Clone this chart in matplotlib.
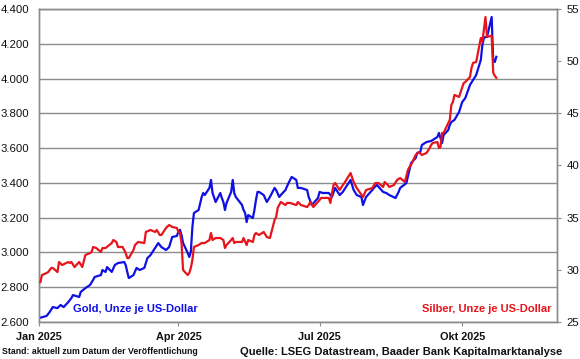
import matplotlib
matplotlib.use("Agg")
import matplotlib.pyplot as plt
import matplotlib.dates as mdates
import pandas as pd

plt.rcParams['font.family'] = ['Liberation Sans', 'DejaVu Sans']

gold_dates = [
    "2025-01-02", "2025-01-06", "2025-01-08", "2025-01-10", "2025-01-13", "2025-01-15",
    "2025-01-17", "2025-01-20", "2025-01-22", "2025-01-23", "2025-01-27", "2025-01-28",
    "2025-01-31", "2025-02-03", "2025-02-05", "2025-02-06", "2025-02-10", "2025-02-11",
    "2025-02-13", "2025-02-14", "2025-02-17", "2025-02-19", "2025-02-21", "2025-02-25",
    "2025-02-26", "2025-02-27", "2025-02-28", "2025-03-03", "2025-03-05", "2025-03-07",
    "2025-03-10", "2025-03-12", "2025-03-14", "2025-03-17", "2025-03-19", "2025-03-21",
    "2025-03-24", "2025-03-26", "2025-03-28", "2025-03-31", "2025-04-01", "2025-04-02",
    "2025-04-03", "2025-04-04", "2025-04-07", "2025-04-08", "2025-04-09", "2025-04-10",
    "2025-04-11", "2025-04-14", "2025-04-16", "2025-04-17", "2025-04-18", "2025-04-21",
    "2025-04-22", "2025-04-23", "2025-04-25", "2025-04-28", "2025-04-29", "2025-04-30",
    "2025-05-01", "2025-05-02", "2025-05-05", "2025-05-06", "2025-05-07", "2025-05-08",
    "2025-05-12", "2025-05-13", "2025-05-14", "2025-05-15", "2025-05-16", "2025-05-19",
    "2025-05-20", "2025-05-21", "2025-05-22", "2025-05-23", "2025-05-26", "2025-05-28",
    "2025-05-30", "2025-06-02", "2025-06-03", "2025-06-05", "2025-06-06", "2025-06-09",
    "2025-06-11", "2025-06-13", "2025-06-16", "2025-06-17", "2025-06-19", "2025-06-23",
    "2025-06-24", "2025-06-26", "2025-06-30", "2025-07-01", "2025-07-03", "2025-07-07",
    "2025-07-09", "2025-07-11", "2025-07-14", "2025-07-16", "2025-07-21", "2025-07-23",
    "2025-07-25", "2025-07-28", "2025-07-29", "2025-07-31", "2025-08-04", "2025-08-05",
    "2025-08-07", "2025-08-11", "2025-08-13", "2025-08-15", "2025-08-19", "2025-08-21",
    "2025-08-22", "2025-08-26", "2025-08-28", "2025-08-29", "2025-09-01", "2025-09-02",
    "2025-09-04", "2025-09-05", "2025-09-08", "2025-09-11", "2025-09-15", "2025-09-16",
    "2025-09-17", "2025-09-18", "2025-09-19", "2025-09-22", "2025-09-23", "2025-09-24",
    "2025-09-26", "2025-09-29", "2025-09-30", "2025-10-01", "2025-10-03", "2025-10-06",
    "2025-10-08", "2025-10-10", "2025-10-13", "2025-10-14", "2025-10-15", "2025-10-16",
    "2025-10-17", "2025-10-20", "2025-10-21", "2025-10-22", "2025-10-23",
]
gold_values = [
    2625, 2635, 2658, 2686, 2680, 2698,
    2686, 2715, 2738, 2755, 2744, 2773,
    2795, 2813, 2842, 2859, 2870, 2899,
    2888, 2916, 2888, 2928, 2939, 2945,
    2928, 2888, 2853, 2870, 2911, 2899,
    2911, 2968, 2985, 3026, 3054, 3031,
    3014, 3031, 3089, 3095, 3120, 3130,
    3100, 3054, 2997, 2974, 3003, 3146,
    3227, 3244, 3319, 3342, 3330, 3371,
    3417, 3342, 3290, 3342, 3313, 3290,
    3244, 3284, 3348, 3417, 3342, 3319,
    3273, 3244, 3227, 3175, 3215, 3198,
    3244, 3302, 3348, 3348, 3330, 3290,
    3319, 3371, 3359, 3319, 3330, 3359,
    3399, 3434, 3417, 3371, 3371, 3359,
    3319, 3273, 3313, 3348, 3342, 3342,
    3319, 3371, 3330, 3348, 3417, 3359,
    3330, 3319, 3273, 3319, 3359, 3371,
    3388, 3348, 3342, 3330, 3313, 3348,
    3371, 3399, 3474, 3514, 3543, 3572,
    3578, 3618, 3635, 3641, 3664, 3687,
    3658, 3629, 3675, 3704, 3733, 3750,
    3762, 3808, 3836, 3865, 3888, 3963,
    3992, 4020, 4107, 4193, 4233, 4239,
    4239, 4354, 4100, 4095, 4125,
]

silver_dates = [
    "2025-01-02", "2025-01-03", "2025-01-06", "2025-01-07", "2025-01-09", "2025-01-10",
    "2025-01-13", "2025-01-14", "2025-01-16", "2025-01-20", "2025-01-21", "2025-01-22",
    "2025-01-24", "2025-01-27", "2025-01-29", "2025-01-31", "2025-02-03", "2025-02-04",
    "2025-02-05", "2025-02-07", "2025-02-10", "2025-02-11", "2025-02-13", "2025-02-17",
    "2025-02-18", "2025-02-20", "2025-02-21", "2025-02-24", "2025-02-26", "2025-02-27",
    "2025-02-28", "2025-03-03", "2025-03-04", "2025-03-06", "2025-03-10", "2025-03-11",
    "2025-03-14", "2025-03-17", "2025-03-18", "2025-03-20", "2025-03-21", "2025-03-24",
    "2025-03-26", "2025-03-28", "2025-03-31", "2025-04-01", "2025-04-02", "2025-04-03",
    "2025-04-04", "2025-04-07", "2025-04-08", "2025-04-09", "2025-04-10", "2025-04-11",
    "2025-04-14", "2025-04-16", "2025-04-18", "2025-04-21", "2025-04-22", "2025-04-23",
    "2025-04-25", "2025-04-28", "2025-04-30", "2025-05-01", "2025-05-02", "2025-05-05",
    "2025-05-06", "2025-05-07", "2025-05-08", "2025-05-12", "2025-05-13", "2025-05-15",
    "2025-05-16", "2025-05-19", "2025-05-20", "2025-05-21", "2025-05-23", "2025-05-26",
    "2025-05-28", "2025-05-30", "2025-06-02", "2025-06-03", "2025-06-04", "2025-06-06",
    "2025-06-09", "2025-06-10", "2025-06-12", "2025-06-16", "2025-06-17", "2025-06-19",
    "2025-06-23", "2025-06-24", "2025-06-25", "2025-06-27", "2025-07-01", "2025-07-02",
    "2025-07-07", "2025-07-08", "2025-07-10", "2025-07-11", "2025-07-14", "2025-07-16",
    "2025-07-17", "2025-07-21", "2025-07-23", "2025-07-25", "2025-07-29", "2025-07-31",
    "2025-08-04", "2025-08-06", "2025-08-08", "2025-08-11", "2025-08-12", "2025-08-14",
    "2025-08-15", "2025-08-18", "2025-08-20", "2025-08-22", "2025-08-25", "2025-08-27",
    "2025-08-28", "2025-08-29", "2025-09-01", "2025-09-03", "2025-09-05", "2025-09-08",
    "2025-09-10", "2025-09-11", "2025-09-12", "2025-09-15", "2025-09-16", "2025-09-17",
    "2025-09-18", "2025-09-19", "2025-09-22", "2025-09-23", "2025-09-24", "2025-09-25",
    "2025-09-26", "2025-09-29", "2025-09-30", "2025-10-02", "2025-10-03", "2025-10-06",
    "2025-10-07", "2025-10-08", "2025-10-10", "2025-10-13", "2025-10-14", "2025-10-16",
    "2025-10-17", "2025-10-20", "2025-10-21", "2025-10-22", "2025-10-23",
]
silver_values = [
    28.83, 29.50, 29.70, 29.79, 30.18, 30.18,
    29.79, 30.75, 30.46, 30.75, 30.66, 30.75,
    30.27, 30.75, 30.27, 31.42, 31.61, 31.71,
    32.19, 32.09, 31.71, 32.09, 32.09, 32.57,
    32.86, 32.67, 32.19, 32.19, 31.61, 31.13,
    31.13, 31.90, 32.38, 32.67, 32.57, 33.63,
    33.82, 33.63, 33.82, 33.34, 33.34, 34.01,
    34.30, 34.11, 34.01, 33.63, 33.53, 32.57,
    29.98, 29.50, 29.70, 30.18, 30.94, 32.19,
    32.38, 32.57, 32.57, 32.86, 33.53, 32.86,
    33.05, 33.05, 32.86, 32.09, 32.38, 32.86,
    33.05, 32.57, 32.67, 32.67, 33.05, 32.38,
    32.86, 32.67, 33.34, 33.53, 33.34, 33.63,
    33.15, 33.05, 34.78, 35.06, 35.93, 36.50,
    36.21, 36.41, 36.41, 36.21, 36.50, 36.21,
    36.02, 36.21, 36.50, 36.02, 36.69, 36.89,
    36.89, 36.41, 38.13, 38.32, 37.65, 38.13,
    38.32, 39.28, 38.42, 37.84, 36.98, 37.65,
    37.84, 38.32, 38.32, 37.94, 38.42, 38.13,
    37.94, 38.13, 38.61, 38.80, 38.42, 39.57,
    39.86, 40.05, 41.01, 41.29, 41.01, 41.20,
    41.68, 41.97, 42.16, 42.25, 41.68, 41.77,
    43.12, 43.12, 44.07, 44.36, 45.80, 46.09,
    46.76, 46.57, 47.05, 47.91, 48.00, 48.48,
    49.35, 49.83, 49.92, 52.22, 51.84, 54.23,
    52.32, 52.45, 48.90, 48.60, 48.40,
]

gold_ticks = [2600, 2800, 3000, 3200, 3400, 3600, 3800, 4000, 4200, 4400]
gold_tick_labels = ["2.600", "2.800", "3.000", "3.200", "3.400", "3.600", "3.800", "4.000", "4.200", "4.400"]
silver_ticks = [25, 30, 35, 40, 45, 50, 55]
x_tick_dates = ["2025-01-01", "2025-04-01", "2025-07-01", "2025-10-01"]
x_tick_labels = ["Jan 2025", "Apr 2025", "Jul 2025", "Okt 2025"]
x_range = ["2025-01-01", "2025-12-01"]

BLUE = "#1010e6"
RED = "#e8141c"
GRID = "#8c8c8c"

fig = plt.figure(figsize=(5.80, 3.59), dpi=100)
ax = fig.add_axes([0.067, 0.103, 0.893, 0.872])
ax2 = ax.twinx()

gd = pd.to_datetime(gold_dates)
sd = pd.to_datetime(silver_dates)
ax.plot(gd, gold_values, color=BLUE, lw=1.6, zorder=3)
ax2.plot(sd, silver_values, color=RED, lw=1.6, zorder=3)

ax.set_xlim(pd.to_datetime(x_range[0]), pd.to_datetime(x_range[1]))
ax.set_ylim(2600, 4400)
ax2.set_ylim(25, 55)

ax.set_yticks(gold_ticks)
ax.set_yticklabels(gold_tick_labels)
ax2.set_yticks(silver_ticks)
ax.set_xticks(pd.to_datetime(x_tick_dates))
ax.set_xticklabels(x_tick_labels, fontweight="bold")

ax.grid(axis="y", color=GRID, lw=1.0)
ax.set_axisbelow(True)

for a in (ax, ax2):
    for s in a.spines.values():
        s.set_color(GRID)
        s.set_linewidth(1.0)

ax.tick_params(axis="y", length=0, labelsize=8.2, colors="#111111", pad=7)
ax.tick_params(axis="x", length=3, color=GRID, labelsize=7.8, labelcolor="#111111", pad=4)
ax2.tick_params(axis="y", length=3, color=GRID, labelsize=8.2, labelcolor="#111111", pad=4)

fig.text(73 / 580, 1 - 309 / 359, "Gold, Unze je US-Dollar", color=BLUE,
         fontsize=8, fontweight="bold", va="center", ha="left")
fig.text(551 / 580, 1 - 309 / 359, "Silber, Unze je US-Dollar", color=RED,
         fontsize=8, fontweight="bold", va="center", ha="right")
fig.text(2 / 580, 1 - 352 / 359, "Stand: aktuell zum Datum der Veröffentlichung",
         color="#111111", fontsize=6.3, fontweight="bold", va="center", ha="left")
fig.text(562 / 580, 1 - 352 / 359, "Quelle: LSEG Datastream, Baader Bank Kapitalmarktanalyse",
         color="#111111", fontsize=8, fontweight="bold", va="center", ha="right")

fig.savefig("out.png", dpi=100)
